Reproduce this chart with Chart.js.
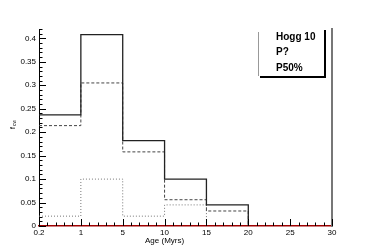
<!DOCTYPE html>
<html>
<head>
<meta charset="utf-8">
<script src="https://cdn.jsdelivr.net/npm/chart.js@4"></script>
<style>
  html, body { margin: 0; padding: 0; background: #fff; }
  #wrap { width: 371px; height: 252px; }
</style>
</head>
<body>
<div id="wrap"><canvas id="myChart" width="371" height="252"></canvas></div>
<script>
// bin edges shown as evenly spaced tick labels
const edgeLabels = ['0.2', '1', '5', '10', '15', '20', '25', '30'];
// histogram heights per bin (last point closes the step back to 0)
const solidVals  = [0.237, 0.408, 0.182, 0.100, 0.045, 0];
const dashedVals = [0.214, 0.305, 0.158, 0.056, 0.032, 0];
const dottedVals = [0.021, 0.100, 0.021, 0.045, 0];
const legendLines = ['Hogg 10', 'P?', 'P50%'];
const yTicks = [0, 0.05, 0.1, 0.15, 0.2, 0.25, 0.3, 0.35, 0.4];

const toPts = vals => vals.map((v, i) => ({ x: i, y: v }));

// inward ticks, ROOT style
const rootTicks = {
  id: 'rootTicks',
  afterDraw(chart) {
    const c = chart.ctx, xs = chart.scales.x, ys = chart.scales.y;
    const x0 = xs.left, y0 = ys.bottom;
    c.save();
    c.strokeStyle = '#000';
    c.lineWidth = 1;
    for (let v = 0; v <= 0.42001; v += 0.01) {
      const py = Math.round(ys.getPixelForValue(v)) + 0.5;
      const major = Math.abs(v / 0.05 - Math.round(v / 0.05)) < 1e-6;
      c.beginPath(); c.moveTo(x0, py); c.lineTo(x0 + (major ? 7 : 3.5), py); c.stroke();
    }
    for (let v = 0; v <= 7.0001; v += 0.2) {
      const px = Math.round(xs.getPixelForValue(v)) + 0.5;
      const major = Math.abs(v - Math.round(v)) < 1e-6;
      c.beginPath(); c.moveTo(px, y0); c.lineTo(px, y0 - (major ? 7 : 3.5)); c.stroke();
    }
    // axis titles
    c.fillStyle = '#000';
    c.font = '8px "Liberation Sans", Arial, sans-serif';
    c.textAlign = 'center';
    c.textBaseline = 'middle';
    c.fillText('Age (Myrs)', xs.getPixelForValue(3), 241);
    c.translate(13, 124);
    c.rotate(-Math.PI / 2);
    c.font = '7px "Liberation Sans", Arial, sans-serif';
    c.fillText('f', -4, 0);
    c.font = '5px "Liberation Sans", Arial, sans-serif';
    c.fillText('cw', 1, 2);
    c.restore();

    // legend box with shadow
    c.save();
    const bx = 258, by = 28, bw = 66, bh = 48;
    c.fillStyle = '#000';
    c.fillRect(bx + 2, by + bh, bw, 2);
    c.fillRect(bx + bw, by + 2, 2, bh);
    c.strokeStyle = '#999';
    c.lineWidth = 1;
    c.beginPath(); c.moveTo(bx + 0.5, by + 4); c.lineTo(bx + 0.5, by + bh); c.stroke();
    c.font = 'bold 10px "Liberation Sans", Arial, sans-serif';
    c.textAlign = 'left';
    c.textBaseline = 'middle';
    legendLines.forEach((t, i) => c.fillText(t, 276, 37 + i * 15.5));
    c.restore();
  }
};

const ctx = document.getElementById('myChart').getContext('2d');
new Chart(ctx, {
  type: 'line',
  data: {
    datasets: [
      { data: toPts(solidVals), borderColor: '#222', borderWidth: 1.3, stepped: 'before', pointRadius: 0 },
      { data: toPts(dashedVals), borderColor: '#444', borderWidth: 1, borderDash: [3, 2], stepped: 'before', pointRadius: 0 },
      { data: toPts(dottedVals), borderColor: '#777', borderWidth: 1, borderDash: [1, 2], stepped: 'before', pointRadius: 0 }
    ]
  },
  options: {
    responsive: false,
    animation: false,
    layout: { padding: { top: 29, right: 39, left: 0, bottom: 0 } },
    plugins: { legend: { display: false }, tooltip: { enabled: false } },
    scales: {
      x: {
        type: 'linear', min: 0, max: 7,
        afterFit: s => { s.height = 26; },
        grid: { display: true, drawOnChartArea: false, drawTicks: false },
        border: { display: true, color: '#a00000', width: 1.5 },
        ticks: {
          stepSize: 1, padding: 2, color: '#000', maxRotation: 0,
          font: { size: 8, family: '"Liberation Sans", Arial, sans-serif' },
          callback: v => edgeLabels[v] ?? ''
        }
      },
      y: {
        type: 'linear', min: 0, max: 0.42,
        afterFit: s => { s.width = 39; },
        afterBuildTicks: s => { s.ticks = yTicks.map(v => ({ value: v })); },
        grid: { display: true, drawOnChartArea: false, drawTicks: false },
        border: { display: true, color: '#000', width: 1 },
        ticks: {
          padding: 3, color: '#000',
          font: { size: 8, family: '"Liberation Sans", Arial, sans-serif' },
          callback: v => String(+v.toFixed(2))
        }
      },
      y2: {
        type: 'linear', position: 'right', min: 0, max: 0.42,
        afterFit: s => { s.width = 0; },
        grid: { display: false },
        border: { display: true, color: '#777', width: 2 },
        ticks: { display: false }
      }
    }
  },
  plugins: [rootTicks]
});
</script>
</body>
</html>
